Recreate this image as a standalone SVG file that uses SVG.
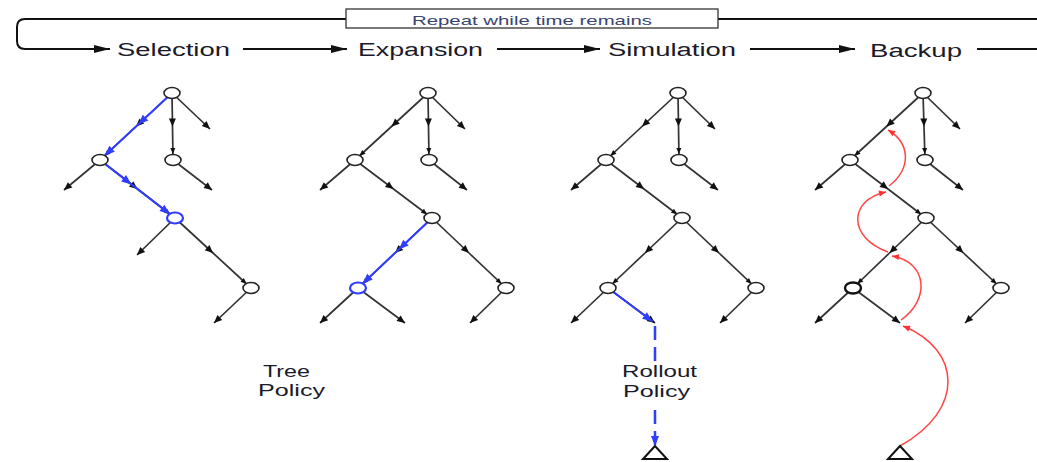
<svg xmlns="http://www.w3.org/2000/svg" width="1037" height="462" viewBox="0 0 1037 462">
<style>
.bg{fill:#fff}
.h{font-family:"Liberation Sans",Arial,sans-serif;font-size:18px;fill:#1a1a2a}
.lbl{font-family:"Liberation Sans",Arial,sans-serif;font-size:16px;fill:#1a1a2a}
.box{fill:#fff;stroke:#333;stroke-width:1.3}
.boxt{font-family:"Liberation Sans",Arial,sans-serif;font-size:13.5px;fill:#3a4470}
.flow{fill:none;stroke:#111;stroke-width:2}
.fa{fill:none;stroke:#111;stroke-width:2;marker-end:url(#at)}
.lf{fill:none;stroke:#333;stroke-width:1.7;marker-end:url(#ah)}
.fe{fill:none;stroke:#333;stroke-width:1.7;marker-mid:url(#ah);marker-end:url(#as)}
.be{fill:none;stroke:#2f3dff;stroke-width:2;marker-mid:url(#ab);marker-end:url(#abe)}
.bl{fill:none;stroke:#2f3dff;stroke-width:2;marker-end:url(#ab)}
.bd{fill:none;stroke:#2f3dff;stroke-width:2.5;stroke-dasharray:14 7;marker-end:url(#ab)}
.rc{fill:none;stroke:#ff4545;stroke-width:1.5;marker-end:url(#ar)}
.n{fill:#fff;stroke:#222;stroke-width:1.6}
.nb{fill:#fff;stroke:#2f3dff;stroke-width:2.2}
.nk{fill:#fff;stroke:#111;stroke-width:2.4}
.t{fill:#fff;stroke:#111;stroke-width:2}
</style>
<defs>
<marker id="ah" markerUnits="userSpaceOnUse" markerWidth="9" markerHeight="8" refX="8" refY="3.5" orient="auto" overflow="visible"><path d="M0,0 L8,3.5 L0,7 z" fill="#111" stroke="none"/></marker>
<marker id="as" markerUnits="userSpaceOnUse" markerWidth="7" markerHeight="6" refX="12" refY="2.5" orient="auto" overflow="visible"><path d="M0,0 L6,2.5 L0,5 z" fill="#111" stroke="none"/></marker>
<marker id="ab" markerUnits="userSpaceOnUse" markerWidth="11" markerHeight="9" refX="10" refY="4" orient="auto" overflow="visible"><path d="M0,0 L10,4 L0,8 z" fill="#2f3dff" stroke="none"/></marker>
<marker id="abe" markerUnits="userSpaceOnUse" markerWidth="11" markerHeight="9" refX="16.5" refY="4" orient="auto" overflow="visible"><path d="M0,0 L10,4 L0,8 z" fill="#2f3dff" stroke="none"/></marker>
<marker id="ar" markerUnits="userSpaceOnUse" markerWidth="8" markerHeight="7" refX="7" refY="3" orient="auto" overflow="visible"><path d="M0,0 L7,3 L0,6 z" fill="#ff3030" stroke="none"/></marker>
<marker id="at" markerUnits="userSpaceOnUse" markerWidth="17" markerHeight="9" refX="16" refY="4" orient="auto" overflow="visible"><path d="M0,0 L16,4 L0,8 z" fill="#111" stroke="none"/></marker>
</defs>
<rect class="bg" x="0" y="0" width="1037" height="462"/>

<g id="flow">
<path class="flow" d="M347 19 H25 Q17 19 17 27 V41 Q17 49 25 49 H60"/>
<path class="fa" d="M58 49 H110"/>
<path class="fa" d="M243 49 H347"/>
<path class="fa" d="M497 49 H600"/>
<path class="fa" d="M750 49 H855"/>
<path class="flow" d="M977 49 H1040"/>
<path class="flow" d="M718 19 H1040"/>
</g>

<g id="repeat-box">
<rect class="box" x="346" y="9" width="372" height="19"/>
<text class="boxt" x="412" y="24.5" textLength="240" lengthAdjust="spacingAndGlyphs">Repeat while time remains</text>
</g>

<g id="headings">
<text class="h" x="117" y="56" textLength="113" lengthAdjust="spacingAndGlyphs">Selection</text>
<text class="h" x="358" y="56" textLength="125" lengthAdjust="spacingAndGlyphs">Expansion</text>
<text class="h" x="608" y="56" textLength="128" lengthAdjust="spacingAndGlyphs">Simulation</text>
<text class="h" x="870" y="57" textLength="92" lengthAdjust="spacingAndGlyphs">Backup</text>
</g>

<g id="connectors">
<!-- Panel 1: Selection -->
<path class="fe" d="M172 93 L136 126.5 L100 160"/>
<path class="fe" d="M172 93 L172.5 126.5 L173 160"/>
<path class="lf" d="M172 93 L210 129"/>
<path class="lf" d="M100 160 L64 190"/>
<path class="fe" d="M100 160 L137.5 189 L175 218"/>
<path class="lf" d="M173 160 L212 190"/>
<path class="lf" d="M175 218 L137 255"/>
<path class="fe" d="M175 218 L213 253 L251 288"/>
<path class="lf" d="M251 288 L214 323"/>
<path class="be" d="M172 93 L138.2 124.5 L100 160"/>
<path class="be" d="M100 160 L131.5 184.4 L175 218"/>

<!-- Panel 2: Expansion -->
<path class="fe" d="M428 93 L391.5 126.5 L355 160"/>
<path class="fe" d="M428 93 L428.5 126.5 L429 160"/>
<path class="lf" d="M428 93 L465 129"/>
<path class="lf" d="M355 160 L320 190"/>
<path class="fe" d="M355 160 L393.5 189 L432 218"/>
<path class="lf" d="M429 160 L467 190"/>
<path class="fe" d="M432 218 L395 253 L358 288"/>
<path class="fe" d="M432 218 L469 253 L506 288"/>
<path class="lf" d="M358 288 L320 323"/>
<path class="lf" d="M358 288 L405 323"/>
<path class="lf" d="M506 288 L470 323"/>
<path class="be" d="M432 218 L398.7 249.5 L358 288"/>

<!-- Panel 3: Simulation -->
<path class="fe" d="M678 93 L642 126.5 L606 160"/>
<path class="fe" d="M678 93 L678.5 126.5 L679 160"/>
<path class="lf" d="M678 93 L715 129"/>
<path class="lf" d="M606 160 L571 190"/>
<path class="fe" d="M606 160 L644 189 L682 218"/>
<path class="lf" d="M679 160 L718 190"/>
<path class="fe" d="M682 218 L645 253 L608 288"/>
<path class="fe" d="M682 218 L719 253 L756 288"/>
<path class="lf" d="M608 288 L571 323"/>
<path class="lf" d="M608 288 L655 323"/>
<path class="lf" d="M756 288 L720 323"/>
<path class="bl" d="M608 288 L652.5 321.5"/>
<path class="bd" d="M655 326 V446"/>

<!-- Panel 4: Backup -->
<path class="fe" d="M923 93 L886.5 126.5 L850 160"/>
<path class="fe" d="M923 93 L924 126.5 L925 160"/>
<path class="lf" d="M923 93 L960 129"/>
<path class="lf" d="M850 160 L815 190"/>
<path class="fe" d="M850 160 L888 189 L926 218"/>
<path class="lf" d="M925 160 L963 190"/>
<path class="fe" d="M926 218 L889.5 253 L853 288"/>
<path class="fe" d="M926 218 L963.5 253 L1001 288"/>
<path class="lf" d="M853 288 L815 323"/>
<path class="lf" d="M853 288 L900 323"/>
<path class="lf" d="M1001 288 L965 323"/>
<path class="rc" d="M900 446 C965 410 962 350 903 326"/>
<path class="rc" d="M901 320 C930 300 928 262 892 256"/>
<path class="rc" d="M888 252 C848 238 848 200 886 192"/>
<path class="rc" d="M889 186 C912 168 910 143 888 130"/>
</g>

<g id="p1-nodes">
<g id="p1-root"><ellipse class="n" cx="172" cy="93" rx="8" ry="5.5"/></g>
<g id="p1-a"><ellipse class="n" cx="100" cy="160" rx="8" ry="5.5"/></g>
<g id="p1-b"><ellipse class="n" cx="173" cy="160" rx="8" ry="5.5"/></g>
<g id="p1-c"><ellipse class="nb" cx="175" cy="218" rx="8" ry="5.5"/></g>
<g id="p1-d"><ellipse class="n" cx="251" cy="288" rx="8" ry="5.5"/></g>
</g>
<g id="p2-nodes">
<g id="p2-root"><ellipse class="n" cx="428" cy="93" rx="8" ry="5.5"/></g>
<g id="p2-a"><ellipse class="n" cx="355" cy="160" rx="8" ry="5.5"/></g>
<g id="p2-b"><ellipse class="n" cx="429" cy="160" rx="8" ry="5.5"/></g>
<g id="p2-c"><ellipse class="n" cx="432" cy="218" rx="8" ry="5.5"/></g>
<g id="p2-e"><ellipse class="nb" cx="358" cy="288" rx="8" ry="5.5"/></g>
<g id="p2-d"><ellipse class="n" cx="506" cy="288" rx="8" ry="5.5"/></g>
</g>
<g id="p3-nodes">
<g id="p3-root"><ellipse class="n" cx="678" cy="93" rx="8" ry="5.5"/></g>
<g id="p3-a"><ellipse class="n" cx="606" cy="160" rx="8" ry="5.5"/></g>
<g id="p3-b"><ellipse class="n" cx="679" cy="160" rx="8" ry="5.5"/></g>
<g id="p3-c"><ellipse class="n" cx="682" cy="218" rx="8" ry="5.5"/></g>
<g id="p3-e"><ellipse class="n" cx="608" cy="288" rx="8" ry="5.5"/></g>
<g id="p3-d"><ellipse class="n" cx="756" cy="288" rx="8" ry="5.5"/></g>
<g id="p3-terminal"><polygon class="t" points="655,446 643,459 667,459"/></g>
</g>
<g id="p4-nodes">
<g id="p4-root"><ellipse class="n" cx="923" cy="93" rx="8" ry="5.5"/></g>
<g id="p4-a"><ellipse class="n" cx="850" cy="160" rx="8" ry="5.5"/></g>
<g id="p4-b"><ellipse class="n" cx="925" cy="160" rx="8" ry="5.5"/></g>
<g id="p4-c"><ellipse class="n" cx="926" cy="218" rx="8" ry="5.5"/></g>
<g id="p4-e"><ellipse class="nk" cx="853" cy="288" rx="8" ry="5.5"/></g>
<g id="p4-d"><ellipse class="n" cx="1001" cy="288" rx="8" ry="5.5"/></g>
<g id="p4-terminal"><polygon class="t" points="900,446 888,459 912,459"/></g>
</g>

<g id="tree-policy">
<text class="lbl" x="263" y="377" textLength="47" lengthAdjust="spacingAndGlyphs">Tree</text>
<text class="lbl" x="258" y="396" textLength="67" lengthAdjust="spacingAndGlyphs">Policy</text>
</g>
<g id="rollout-policy">
<rect class="bg" x="618" y="363" width="82" height="40"/>
<text class="lbl" x="622" y="377" textLength="75" lengthAdjust="spacingAndGlyphs">Rollout</text>
<text class="lbl" x="623" y="397" textLength="67" lengthAdjust="spacingAndGlyphs">Policy</text>
</g>
</svg>
